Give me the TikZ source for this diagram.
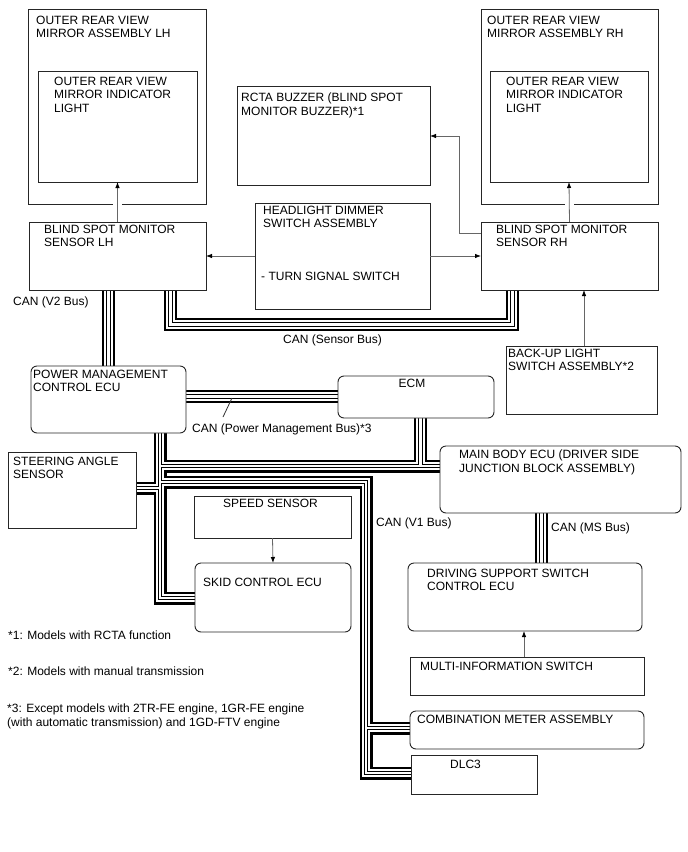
\documentclass[tikz,border=0pt]{standalone}
\usepackage{fontspec}
\setmainfont{Liberation Sans}
\usetikzlibrary{arrows.meta,calc}
\pgfdeclarelayer{bg}
\pgfsetlayers{bg,main}
\newcommand\fs{\fontsize{12}{13.6}\selectfont}
\newcommand\tstrut{\rule{0pt}{9pt}}
\newcommand\mybox[6]{\node[#6, minimum width={#4pt-#2pt}, minimum height={#5pt-#3pt}] (#1) at (#2,#3) {};}
\newcommand\mytext[4]{\node[txt] (#1) at (#2,#3-9) {\tstrut #4};}
\newcommand\buses[1]{%
\draw[#1] (bsml.south -| v2) -- (pmc.north -| v2);
\draw[#1] (bsml.south -| sL) -- (sL) -- (sR) -- (bsmr.south -| sR);
\draw[#1] (pmc.east |- pmy) -- (ecm.west |- pmy);
\draw[#1] (pmc.south -| lx) -- (lx |- sky) -- (skid.west |- sky);
\draw[#1] (steer.east |- sty) -- (lx |- sty);
\draw[#1] (lx |- ey) -- (mb.west |- ey);
\draw[#1] (ecm.south -| ex) -- (ex |- ey);
\draw[#1] (lx |- fy) -- (v1) -- (v1 |- dy) -- (dlc.west |- dy);
\draw[#1] (v1 |- cy) -- (comb.west |- cy);
\draw[#1] (mb.south -| msx) -- (dss.north -| msx);
}
\begin{document}
\begin{tikzpicture}[x=1pt,y=-1pt,
 box/.style={draw=black!85,fill=white,line width=0.9pt,anchor=north west,inner sep=0pt,outer sep=0pt},
 rbox/.style={box,rounded corners=6pt},
 txt/.style={anchor=north west,inner sep=0pt,align=left,font=\fs,text=black},
 arr/.style={draw=black!60,line width=0.8pt,-{Latex[length=6pt,width=4.5pt,color=black]}},
 busA/.style={draw=black,line width=13pt,line join=miter},
 busB/.style={draw=white,line width=8.4pt,line join=miter},
 busC/.style={draw=black,line width=4.4pt,line join=miter},
 busD/.style={draw=white,line width=2.2pt,line join=miter}]
\useasboundingbox (0,0) rectangle (688,852);

% boxes
\mybox{lhout}{28}{9}{206}{204}{box}
\mybox{lhin}{38}{71}{197}{182}{box}
\mybox{rcta}{237}{86}{430}{185}{box}
\mybox{rhout}{481}{9}{658}{204}{box}
\mybox{rhin}{490}{71}{648}{182}{box}
\mybox{bsml}{29}{222}{206}{290}{box}
\mybox{head}{255}{203}{430}{309}{box}
\mybox{bsmr}{481}{222}{658}{290}{box}
\mybox{backup}{506}{346}{657}{414}{box}
\mybox{pmc}{31}{366}{186}{433}{rbox}
\mybox{ecm}{338}{376}{494}{418}{rbox}
\mybox{steer}{8}{452}{136}{528}{box}
\mybox{speed}{194}{496}{351}{538}{box}
\mybox{skid}{195}{563}{351}{632}{rbox}
\mybox{mb}{440}{446}{681}{513}{rbox}
\mybox{dss}{408}{563}{642}{631}{rbox}
\mybox{multi}{410}{657}{644}{695}{box}
\mybox{comb}{410}{711}{644}{749}{rbox}
\mybox{dlc}{411}{755}{537}{794}{box}

% texts
\mytext{tlhout}{36}{24}{OUTER REAR VIEW\\MIRROR ASSEMBLY LH}
\mytext{tlhin}{54}{85}{OUTER REAR VIEW\\MIRROR INDICATOR\\LIGHT}
\mytext{trcta}{241}{101.5}{RCTA BUZZER (BLIND SPOT\\MONITOR BUZZER)*1}
\mytext{trhout}{487}{24}{OUTER REAR VIEW\\MIRROR ASSEMBLY RH}
\mytext{trhin}{506}{85}{OUTER REAR VIEW\\MIRROR INDICATOR\\LIGHT}
\mytext{tbsml}{44}{233}{BLIND SPOT MONITOR\\SENSOR LH}
\mytext{thead}{263}{214}{HEADLIGHT DIMMER\\SWITCH ASSEMBLY}
\mytext{tturn}{261}{280}{- TURN SIGNAL SWITCH}
\mytext{tbsmr}{496}{233}{BLIND SPOT MONITOR\\SENSOR RH}
\mytext{tbackup}{508}{357}{BACK-UP LIGHT\\SWITCH ASSEMBLY*2}
\mytext{tpmc}{33}{378}{POWER MANAGEMENT\\CONTROL ECU}
\node[txt,anchor=base] (tecm) at (412,387.3) {ECM};
\mytext{tsteer}{13}{465}{STEERING ANGLE\\SENSOR}
\mytext{tspeed}{223}{507.5}{SPEED SENSOR}
\mytext{tskid}{203}{586.5}{SKID CONTROL ECU}
\mytext{tmb}{459}{458.3}{MAIN BODY ECU (DRIVER SIDE\\JUNCTION BLOCK ASSEMBLY)}
\mytext{tdss}{427}{577}{DRIVING SUPPORT SWITCH\\CONTROL ECU}
\mytext{tmulti}{420}{670}{MULTI-INFORMATION SWITCH}
\mytext{tcomb}{417}{723.5}{COMBINATION METER ASSEMBLY}
\mytext{tdlc}{450}{768}{DLC3}
\mytext{lv2}{13}{305}{CAN (V2 Bus)}
\mytext{lsens}{283}{343}{CAN (Sensor Bus)}
\mytext{lpm}{192}{432}{CAN (Power Management Bus)*3}
\mytext{lv1}{376}{526}{CAN (V1 Bus)}
\mytext{lms}{551}{531}{CAN (MS Bus)}
\mytext{n1}{8}{639}{*1: Models with RCTA function}
\mytext{n2}{8}{675}{*2: Models with manual transmission}
\mytext{n3}{7}{712.5}{*3: Except models with 2TR-FE engine, 1GR-FE engine\\(with automatic transmission) and 1GD-FTV engine}

% bus coordinates
\coordinate (v2) at (108.5,0);
\coordinate (sL) at (170.5,324.5);
\coordinate (sR) at (512.5,324.5);
\coordinate (pmy) at (0,396.5);
\coordinate (lx) at (160,0);
\coordinate (sky) at (0,598);
\coordinate (sty) at (0,488);
\coordinate (ey) at (0,466);
\coordinate (ex) at (420.5,0);
\coordinate (fy) at (0,482);
\coordinate (v1) at (366,482);
\coordinate (cy) at (0,728);
\coordinate (dy) at (0,773);
\coordinate (msx) at (541.5,0);

\begin{pgfonlayer}{bg}
\fill[white] (0,0) rectangle (688,852);
\buses{busA}
\buses{busB}
\buses{busC}
\buses{busD}
\end{pgfonlayer}

% gaps in outer mirror boxes
\fill[white] ($(lhout.south -| lhin.south)+(-4.5,-2)$) rectangle +(9,4);
\fill[white] ($(rhout.south -| rhin.south)+(-4.5,-2)$) rectangle +(9,4);

% arrows
\draw[arr] (bsml.north) -- (lhin.south);
\draw[arr] (bsmr.north) -- (rhin.south);
\draw[arr] (head.west) -- (bsml.east |- head.west);
\draw[arr] (head.east) -- (bsmr.west |- head.east);
\coordinate (rb) at (459,136);
\draw[arr] ($(bsmr.north west)+(0,11)$) -| (rb) -- (rcta.east |- rb);
\coordinate (ba) at ($(backup.north)+(2.5,0)$);
\draw[arr] (ba) -- (ba |- bsmr.south);
\draw[arr] (speed.south) -- (skid.north);
\coordinate (ma) at ($(multi.north)+(-3,0)$);
\draw[arr] (ma) -- (ma |- dss.south);

% leader for PM bus label
\coordinate (pmt) at (232,398);
\coordinate (pmt2) at (223,417);
\draw[black!80,line width=0.8pt] (pmt) -- (pmt2);
\end{tikzpicture}
\end{document}
